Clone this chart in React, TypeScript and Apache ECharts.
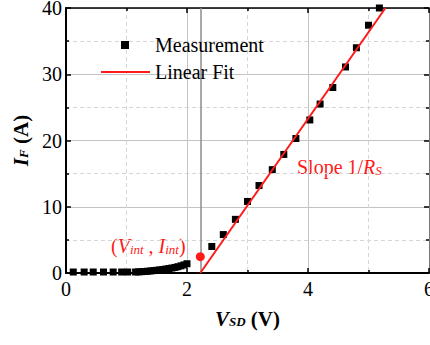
import React, { useEffect, useRef } from "react";
import * as echarts from "echarts";

// Measurement data (V_SD in V, I_F in A)
const measV = [0.12, 0.3, 0.45, 0.62, 0.78, 0.92, 1.02, 1.15, 1.2, 1.25, 1.3, 1.35, 1.4, 1.45, 1.5, 1.55, 1.6, 1.65, 1.7, 1.75, 1.8, 1.85, 1.9, 1.95, 2.0, 2.41, 2.6, 2.8, 3.0, 3.19, 3.41, 3.6, 3.8, 4.03, 4.2, 4.41, 4.62, 4.8, 5.0, 5.18];
const measI = [0.15, 0.15, 0.15, 0.15, 0.15, 0.15, 0.15, 0.15, 0.17, 0.2, 0.23, 0.27, 0.31, 0.36, 0.41, 0.47, 0.53, 0.6, 0.67, 0.75, 0.84, 0.95, 1.08, 1.22, 1.4, 4.0, 5.8, 8.1, 10.8, 13.2, 15.6, 17.9, 20.3, 23.1, 25.5, 28.0, 31.1, 34.0, 37.4, 40.0];

// Linear fit end points
const fitV = [2.22, 5.28];
const fitI = [0, 40];

// Intercept point
const intV = 2.22;
const intI = 2.46;

const xMin = 0, xMax = 6, xStep = 2;
const yMin = 0, yMax = 40, yStep = 10;

const FONT = "Liberation Serif";
const RED = "#ff1a1a";

export default function App() {
  const ref = useRef<HTMLDivElement>(null);
  useEffect(() => {
    document.body.style.margin = "0";
    const chart = echarts.init(ref.current!, null, { renderer: "svg" });
    const majorSplit = { show: true, lineStyle: { color: "#c4c4c4", width: 1 } };
    const minorSplit = { show: true, lineStyle: { color: "#d6d6d6", width: 1, type: [4, 3] as any } };
    const subRich = (c: string, bold: boolean) => ({
      i: { fontFamily: FONT, fontSize: bold ? 21 : 20, fontWeight: bold ? "bold" : "normal", fontStyle: "italic", color: c, fill: c, lineHeight: 20, verticalAlign: "top" },
      s: { fontFamily: FONT, fontSize: 13, fontWeight: bold ? "bold" : "normal", fontStyle: "italic", color: c, fill: c, lineHeight: 13, verticalAlign: "bottom", padding: [10, 0, 0, 0] },
      n: { fontFamily: FONT, fontSize: bold ? 21 : 20, fontWeight: bold ? "bold" : "normal", color: c, fill: c, lineHeight: 20, verticalAlign: "top" },
    });
    const plainRich = { t: { fontFamily: FONT, fontSize: 20, color: "#000" } };
    const option: any = {
      animation: false,
      textStyle: { fontFamily: FONT },
      grid: { left: 66, right: 1, top: 8, bottom: 72, containLabel: false, outerBoundsMode: "none" },
      legend: [
        {
          data: ["Measurement"],
          orient: "vertical",
          left: 121,
          top: 34,
          padding: 0,
          icon: "rect",
          itemWidth: 8,
          itemHeight: 8,
          formatter: "{t|{name}}",
          textStyle: { fontFamily: FONT, fontSize: 20, color: "#000", padding: [0, 0, 0, 21], lineHeight: 22, rich: plainRich },
          selectedMode: false,
        },
        {
          data: ["Linear Fit"],
          orient: "vertical",
          left: 101,
          top: 61,
          padding: 0,
          icon: "rect",
          itemWidth: 49,
          itemHeight: 2,
          formatter: "{t|{name}}",
          textStyle: { fontFamily: FONT, fontSize: 20, color: "#000", lineHeight: 22, rich: plainRich },
          selectedMode: false,
        },
      ],
      xAxis: [
        {
          type: "value",
          min: xMin,
          max: xMax,
          interval: xStep,
          position: "bottom",
          name: "{i|V}{s|SD}{n| (V)}",
          nameLocation: "middle",
          nameGap: 35,
          nameTextStyle: { rich: subRich("#000", true) },
          axisLine: { show: true, onZero: false, lineStyle: { color: "#000", width: 2 } },
          axisTick: { show: true, inside: true, length: 5, lineStyle: { color: "#000", width: 1.5 } },
          minorTick: { show: true, splitNumber: 2, length: 3, lineStyle: { color: "#000", width: 1.5 } },
          axisLabel: { fontFamily: FONT, fontSize: 20, color: "#000", margin: 6, formatter: "{t|{value}}", rich: plainRich },
          splitLine: majorSplit,
          minorSplitLine: minorSplit,
        },
        {
          type: "value",
          min: xMin,
          max: xMax,
          interval: xStep,
          position: "top",
          axisLine: { show: true, onZero: false, lineStyle: { color: "#000", width: 1.5 } },
          axisTick: { show: true, inside: true, length: 5, lineStyle: { color: "#000", width: 1.5 } },
          minorTick: { show: true, splitNumber: 2, length: 3, lineStyle: { color: "#000", width: 1.5 } },
          axisLabel: { show: false },
          splitLine: { show: false },
        },
      ],
      yAxis: [
        {
          type: "value",
          min: yMin,
          max: yMax,
          interval: yStep,
          position: "left",
          name: "{i|I}{s|F}{n| (A)}",
          nameLocation: "middle",
          nameRotate: 90,
          nameGap: 25,
          nameTextStyle: { rich: subRich("#000", true) },
          axisLine: { show: true, onZero: false, lineStyle: { color: "#000", width: 2 } },
          axisTick: { show: true, inside: true, length: 5, lineStyle: { color: "#000", width: 1.5 } },
          minorTick: { show: true, splitNumber: 2, length: 3, lineStyle: { color: "#000", width: 1.5 } },
          axisLabel: { fontFamily: FONT, fontSize: 20, color: "#000", margin: 4, formatter: "{t|{value}}", rich: plainRich },
          splitLine: majorSplit,
          minorSplitLine: minorSplit,
        },
        {
          type: "value",
          min: yMin,
          max: yMax,
          interval: yStep,
          position: "right",
          axisLine: { show: true, onZero: false, lineStyle: { color: "#777", width: 1 } },
          axisTick: { show: true, inside: true, length: 5, lineStyle: { color: "#000", width: 1.5 } },
          minorTick: { show: true, splitNumber: 2, length: 3, lineStyle: { color: "#000", width: 1.5 } },
          axisLabel: { show: false },
          splitLine: { show: false },
        },
      ],
      series: [
        {
          name: "Measurement",
          type: "scatter",
          symbol: "rect",
          symbolSize: 7,
          itemStyle: { color: "#000", opacity: 1 },
          clip: true,
          data: measV.map((v, i) => [v, measI[i]]),
          z: 3,
        },
        {
          name: "Linear Fit",
          type: "line",
          symbol: "none",
          lineStyle: { color: RED, width: 2 },
          itemStyle: { color: RED },
          data: fitV.map((v, i) => [v, fitI[i]]),
          z: 4,
          markLine: {
            silent: true,
            symbol: "none",
            label: { show: false },
            lineStyle: { color: "#8c8c8c", width: 1.5, type: "solid" },
            data: [{ xAxis: intV }],
            z: 1,
          },
        },
        {
          name: "Intercept",
          type: "scatter",
          symbol: "circle",
          symbolSize: 9,
          itemStyle: { color: RED, opacity: 1 },
          data: [[intV, intI]],
          z: 5,
        },
      ],
      graphic: [
        {
          type: "text",
          left: 111,
          top: 233,
          style: {
            text: "{n|(}{i|V}{s|int}{n| , }{i|I}{s|int}{n|)}",
            fill: RED,
            rich: subRich(RED, false),
          },
        },
        {
          type: "text",
          left: 297,
          top: 154,
          style: {
            text: "{n|Slope 1/}{i|R}{s|S}",
            fill: RED,
            rich: subRich(RED, false),
          },
        },
      ],
    };
    chart.setOption(option);
    return () => chart.dispose();
  }, []);
  return <div ref={ref} style={{ width: 430, height: 345 }} />;
}
